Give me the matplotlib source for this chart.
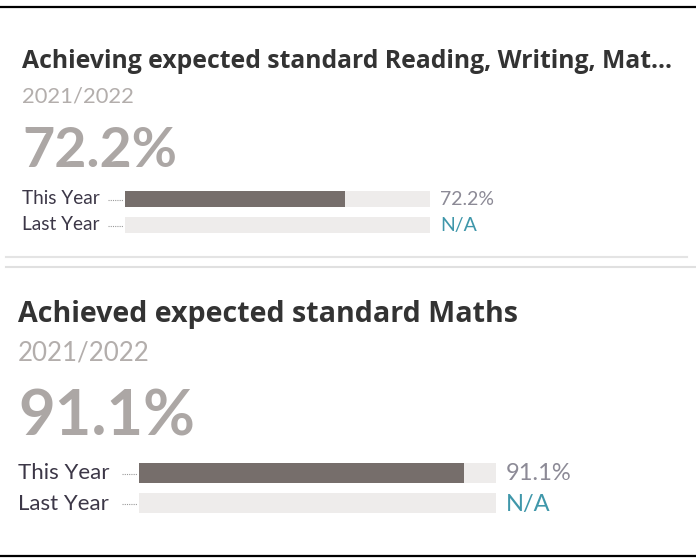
import matplotlib.pyplot as plt

W, H = 696, 558

titles = ['Achieving expected standard Reading, Writing, Mat...',
          'Achieved expected standard Maths']
periods = ['2021/2022', '2021/2022']
this_year = [72.2, 91.1]
last_year = [None, None]
row_labels = ['This Year', 'Last Year']

plt.rcParams['font.family'] = ['Lato', 'DejaVu Sans']

fig = plt.figure(figsize=(W / 100, H / 100), dpi=100)


def fx(x):
    return x / W


def fy(y):
    return 1 - y / H


def fmt(v):
    return 'N/A' if v is None else f'{v:.1f}%'


# pixel layout of the two cards
panels = [
    dict(x=22, title_y=68, year_y=102, big_y=167, bx0=125, bx1=430,
         rows=(191, 217), rh=16, base=(204, 230),
         ts=17.8, ys=15.8, bs=40, ls=13.7, vs=14),
    dict(x=18, title_y=322, year_y=360, big_y=435, bx0=139, bx1=496,
         rows=(463, 493), rh=20, base=(479, 510),
         ts=20.6, ys=18.6, bs=45.5, ls=16, vs=17),
]

for i, p in enumerate(panels):
    fig.text(fx(p['x']), fy(p['title_y']), titles[i], fontsize=p['ts'],
             fontweight='bold', color='#333333', va='baseline',
             family=['Open Sans', 'DejaVu Sans'])
    fig.text(fx(p['x']), fy(p['year_y']), periods[i], fontsize=p['ys'],
             color='#b3aeac', va='baseline')
    fig.text(fx(p['x']), fy(p['big_y']), fmt(this_year[i]), fontsize=p['bs'],
             fontweight='bold', color='#aca7a5', va='baseline')

    # bar axes
    top = p['rows'][0]
    bottom = p['rows'][1] + p['rh']
    span = bottom - top
    ax = fig.add_axes([fx(p['bx0']), fy(bottom), fx(p['bx1'] - p['bx0']),
                       span / H])
    vals = [this_year[i], last_year[i]]
    hfrac = p['rh'] / span
    centres = [(r - top + p['rh'] / 2) / span for r in p['rows']]
    ax.barh(centres, [100, 100], height=hfrac, color='#eeeceb')
    ax.barh(centres, [v if v is not None else 0 for v in vals], height=hfrac,
            color='#766e6b')
    ax.set_xlim(0, 100)
    ax.set_ylim(1, 0)
    ax.axis('off')

    for j, lab in enumerate(row_labels):
        cy = p['rows'][j] + p['rh'] / 2
        fig.text(fx(p['x']), fy(p['base'][j]), lab, fontsize=p['ls'],
                 color='#3c3747', va='baseline')
        fig.text(fx(p['bx1'] + 10), fy(p['base'][j] + 1), fmt(vals[j]),
                 fontsize=p['vs'],
                 color='#8c8a96' if vals[j] is not None else '#3f97aa',
                 va='baseline')
        fig.add_artist(plt.Line2D([fx(p['bx0'] - 17), fx(p['bx0'] - 2)],
                                  [fy(cy + 1), fy(cy + 1)], color='#9a9a9a',
                                  lw=0.8, linestyle=(0, (1, 1))))

# frame and separator lines
fig.add_artist(plt.Line2D([0, 1], [fy(7), fy(7)], color='black', lw=1.6))
fig.add_artist(plt.Line2D([0, 1], [fy(556), fy(556)], color='black', lw=1.6))
fig.add_artist(plt.Line2D([fx(6), fx(687)], [fy(257), fy(257)], color='#e4e4e4', lw=1.5))
fig.add_artist(plt.Line2D([fx(6), 1], [fy(267), fy(267)], color='#e0e0e0', lw=1.5))

fig.savefig('out.png', dpi=100, facecolor='white')
